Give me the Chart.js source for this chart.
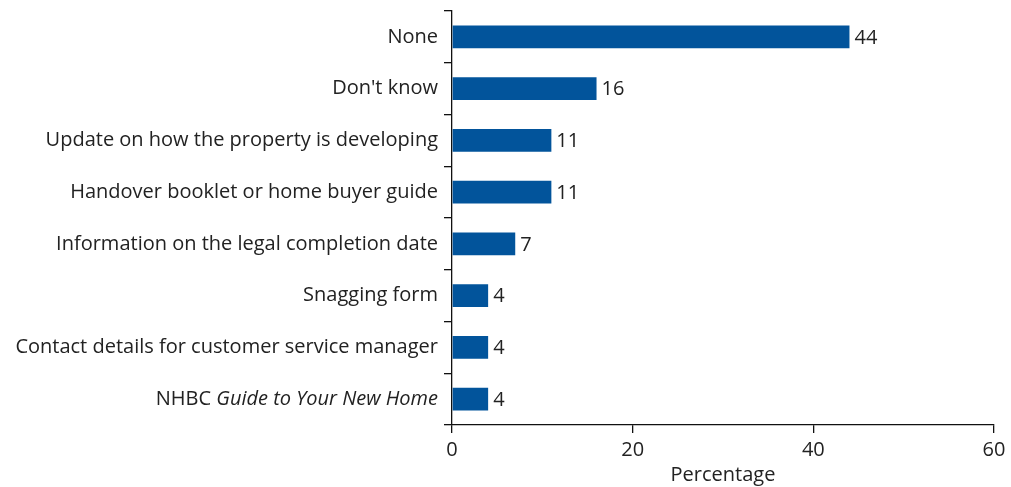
<!DOCTYPE html>
<html>
<head>
<meta charset="utf-8">
<script src="https://cdn.jsdelivr.net/npm/chart.js@4"></script>
<style>
  html, body { margin: 0; padding: 0; background: #ffffff; }
  #wrap { width: 1011px; height: 487px; }
</style>
</head>
<body>
<div id="wrap"><canvas id="chart" width="1011" height="487"></canvas></div>
<script>
// Answer categories, top to bottom
const categories = [
  "None",
  "Don't know",
  "Update on how the property is developing",
  "Handover booklet or home buyer guide",
  "Information on the legal completion date",
  "Snagging form",
  "Contact details for customer service manager",
  "NHBC Guide to Your New Home"
];
// Share of respondents (%)
const percentages = [44, 16, 11, 11, 7, 4, 4, 4];
// X axis range and step
const xTicks = [0, 20, 40, 60];
const xTitle = "Percentage";

const FONT = "'Open Sans', 'Noto Sans', sans-serif";
const TEXT = "#222222";
const BAR = "#02549b";
const FS = 20;

// Last label has its publication title set in italics
const mixedLabelIndex = 7;
const mixedParts = [
  { text: "NHBC ", style: "normal" },
  { text: "Guide to Your New Home", style: "italic" }
];

const valueLabels = {
  id: "valueLabels",
  afterDatasetsDraw(chart) {
    const ctx = chart.ctx;
    const meta = chart.getDatasetMeta(0);
    ctx.save();
    ctx.font = `${FS}px ${FONT}`;
    ctx.fillStyle = TEXT;
    ctx.textAlign = "left";
    ctx.textBaseline = "middle";
    meta.data.forEach((bar, i) => {
      ctx.fillText(String(percentages[i]), bar.x + 5, bar.y + 1);
    });
    ctx.restore();
  }
};

const mixedLabel = {
  id: "mixedLabel",
  afterDraw(chart) {
    const y = chart.scales.y;
    const ctx = chart.ctx;
    const yPos = y.getPixelForTick(mixedLabelIndex);
    const right = y.right - 8 - 6;
    ctx.save();
    ctx.fillStyle = TEXT;
    ctx.textBaseline = "middle";
    ctx.textAlign = "left";
    let total = 0;
    mixedParts.forEach(p => {
      ctx.font = `${p.style} ${FS}px ${FONT}`;
      total += ctx.measureText(p.text).width;
    });
    let x = right - total;
    mixedParts.forEach(p => {
      ctx.font = `${p.style} ${FS}px ${FONT}`;
      ctx.fillText(p.text, x, yPos);
      x += ctx.measureText(p.text).width;
    });
    ctx.restore();
  }
};

new Chart(document.getElementById("chart"), {
  type: "bar",
  data: {
    labels: categories,
    datasets: [{
      data: percentages,
      backgroundColor: BAR,
      borderWidth: 0,
      barPercentage: 0.88,
      categoryPercentage: 0.5
    }]
  },
  options: {
    indexAxis: "y",
    responsive: false,
    animation: false,
    devicePixelRatio: 1,
    layout: { padding: { top: 11, right: 17, left: 0, bottom: 0 } },
    plugins: {
      legend: { display: false },
      tooltip: { enabled: false }
    },
    scales: {
      x: {
        min: xTicks[0],
        max: xTicks[xTicks.length - 1],
        afterBuildTicks(scale) { scale.ticks = xTicks.map(v => ({ value: v })); },
        grid: { drawOnChartArea: false, tickLength: 8, color: "#111", lineWidth: 1.3 },
        border: { color: "#111", width: 1.3 },
        ticks: { color: TEXT, font: { family: FONT, size: FS }, padding: 5 },
        title: { display: true, text: xTitle, color: TEXT, font: { family: FONT, size: FS }, padding: { top: 0, bottom: 0 } },
        afterFit(scale) { scale.height = 62; }
      },
      y: {
        grid: { drawOnChartArea: false, tickLength: 8, color: "#111", lineWidth: 1.3, offset: true },
        border: { color: "#111", width: 1.3 },
        ticks: {
          color: ctx => ctx.index === mixedLabelIndex ? "rgba(0,0,0,0)" : TEXT,
          font: { family: FONT, size: FS },
          padding: 6
        },
        afterFit(scale) {
          scale.width = 452;
          scale.paddingTop = 0;
          scale.paddingBottom = 0;
        }
      }
    }
  },
  plugins: [valueLabels, mixedLabel]
});
</script>
</body>
</html>
